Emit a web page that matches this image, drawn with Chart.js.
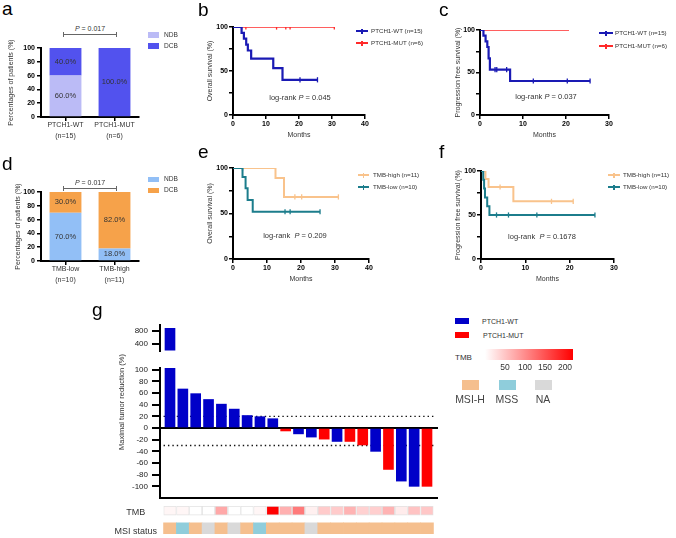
<!DOCTYPE html>
<html><head><meta charset="utf-8">
<script src="https://cdn.jsdelivr.net/npm/chart.js@4.4.1/dist/chart.umd.min.js"></script>
<style>
html,body{margin:0;padding:0;background:#fff;}
#root{position:relative;width:676px;height:538px;overflow:hidden;font-family:'Liberation Sans',Arial,Helvetica,sans-serif;color:#333;}
canvas{position:absolute;}
.t{position:absolute;white-space:nowrap;}
</style></head><body><div id="root"></div>
<script>
// ---------------- DATA ----------------
const responseSeries = ['NDB', 'DCB'];
const aCategories = [['PTCH1-WT', '(n=15)'], ['PTCH1-MUT', '(n=6)']];
const aNDB = [60.0, 0];
const aDCB = [40.0, 100.0];
const aP = '0.017';
const dCategories = [['TMB-low', '(n=10)'], ['TMB-high', '(n=11)']];
const dNDB = [70.0, 18.0];
const dDCB = [30.0, 82.0];
const dP = '0.017';

const kmYTicks = [0, 25, 50, 75, 100];
const kmYLabelled = [0, 50, 100];

const bWtTime = [0, 2.6, 3.3, 4.0, 4.5, 5.5, 12.2, 15.0, 25.6];
const bWtSurv = [100, 93.3, 86.7, 80, 73.3, 64, 53.3, 40, 40];
const bWtCensor = [2.6, 20.3, 25.6];
const bMutTime = [0, 30.7];
const bMutSurv = [100, 100];
const bMutCensor = [3.9, 13.2, 16.0, 17.3, 30.7];
const bLogRank = '0.045';

const cWtTime = [0, 0.8, 1.3, 1.7, 2.0, 2.3, 7.0, 25.6];
const cWtSurv = [100, 93.3, 86.7, 80, 66.7, 53.3, 40, 40];
const cWtCensor = [3.5, 3.9, 6.2, 12.4, 20.3, 25.6];
const cMutTime = [0, 20.7];
const cMutSurv = [100, 100];
const cMutCensor = [];
const cLogRank = '0.037';

const eHighTime = [0, 12.5, 15.0, 31.0];
const eHighSurv = [100, 88.9, 68.2, 68.2];
const eHighCensor = [18.2, 20.2, 31.0];
const eLowTime = [0, 2.8, 3.7, 4.3, 5.8, 25.6];
const eLowSurv = [100, 90, 77.8, 64.8, 51.9, 51.9];
const eLowCensor = [2.8, 15.3, 16.8, 25.6];
const eLogRank = '0.209';

const fHighTime = [0, 1.0, 1.7, 7.3, 20.8];
const fHighSurv = [100, 90.9, 81.8, 65.5, 65.5];
const fHighCensor = [4.3, 15.9, 20.8];
const fLowTime = [0, 0.5, 0.7, 0.9, 1.4, 1.9, 25.7];
const fLowSurv = [100, 90, 80, 70, 60, 50, 50];
const fLowCensor = [3.5, 6.2, 12.6, 25.7];
const fLogRank = '0.1678';

const gReduction = [880, 67, 59, 49, 41, 32.5, 21.5, 19.5, 16, -5, -10, -15.5, -19, -23, -23, -29, -40, -71, -91, -100, -100];
const gGroup = ['WT','WT','WT','WT','WT','WT','WT','WT','WT','MUT','WT','WT','MUT','WT','MUT','MUT','WT','MUT','WT','WT','MUT'];
const gTicksLower = [-100, -80, -60, -40, -20, 0, 20, 40, 60, 80, 100];
const gTicksUpper = [400, 800];
const gThresholds = [20, -30];
const tmbValues = [8, 8, 0, 0, 75, 0, 0, 8, 220, 68, 115, 13, 45, 45, 66, 40, 41, 66, 16, 52, 48];
const msiStatus = ['MSI-H','MSS','MSI-H','NA','MSI-H','NA','MSI-H','MSS','MSI-H','MSI-H','MSI-H','NA','MSI-H','MSI-H','MSI-H','MSI-H','MSI-H','MSI-H','MSI-H','MSI-H','MSI-H'];
const rowNames = ['TMB', 'MSI status'];
const tmbLegendTicks = [50, 100, 150, 200];
const tmbMax = 220;
const msiCategories = ['MSI-H', 'MSS', 'NA'];
const groupNames = ['PTCH1-WT', 'PTCH1-MUT'];

// ---------------- STYLE ----------------
const FONT = "'Liberation Sans', Arial, Helvetica, sans-serif";
Chart.defaults.font.family = FONT;
Chart.defaults.color = '#333';
Chart.defaults.animation = false;
Chart.defaults.responsive = false;
Chart.defaults.maintainAspectRatio = false;
Chart.defaults.devicePixelRatio = 1;
Chart.defaults.plugins.legend.display = false;
Chart.defaults.plugins.tooltip.enabled = false;

const groupColors = {WT: '#0000C8', MUT: '#FF0000'};
const msiColors = {'MSI-H': '#F5BF8E', 'MSS': '#8FCDDB', 'NA': '#D9D9D9'};
function tmbColor(v) { const g = Math.round(255 * (1 - Math.min(v, tmbMax) / tmbMax)); return `rgb(255,${g},${g})`; }

const root = document.getElementById('root');
function addCanvas(x, y, w, h) {
  const c = document.createElement('canvas');
  c.width = w; c.height = h;
  c.style.left = x + 'px'; c.style.top = y + 'px'; c.style.width = w + 'px'; c.style.height = h + 'px';
  root.appendChild(c); return c;
}
function addText(x, y, html, size, o = {}) {
  const d = document.createElement('div');
  d.className = 't'; d.innerHTML = html;
  d.style.fontSize = size + 'px'; d.style.lineHeight = size + 'px';
  d.style.top = (y - size / 2) + 'px';
  d.style.left = x + 'px';
  if (o.align === 'center') d.style.transform = 'translateX(-50%)';
  if (o.align === 'right') d.style.transform = 'translateX(-100%)';
  if (o.color) d.style.color = o.color;
  if (o.weight) d.style.fontWeight = o.weight;
  root.appendChild(d); return d;
}
function addRotText(cx, cy, html, size) {
  const d = document.createElement('div');
  d.className = 't'; d.innerHTML = html;
  d.style.fontSize = size + 'px'; d.style.lineHeight = size + 'px';
  d.style.left = cx + 'px'; d.style.top = cy + 'px';
  d.style.transform = 'translate(-50%,-50%) rotate(-90deg)';
  root.appendChild(d); return d;
}
function addRect(x, y, w, h, bg) {
  const d = document.createElement('div');
  d.style.cssText = `position:absolute;left:${x}px;top:${y}px;width:${w}px;height:${h}px;background:${bg};`;
  root.appendChild(d); return d;
}
function panelLetter(x, baseline, ch) {
  const d = addText(x, 0, ch, 19, {color: '#000'});
  d.style.top = (baseline - 0.847 * 19) + 'px';
}

// ---------------- a / d : stacked response bars ----------------
const segLabels = {
  id: 'segLabels',
  afterDatasetsDraw(chart) {
    const ctx = chart.ctx; ctx.save();
    ctx.font = '7.5px ' + FONT; ctx.fillStyle = '#333'; ctx.textAlign = 'center'; ctx.textBaseline = 'middle';
    chart.data.datasets.forEach((ds, di) => {
      chart.getDatasetMeta(di).data.forEach((el, i) => {
        const v = ds.data[i]; if (!v) return;
        ctx.fillText(v.toFixed(1) + '%', el.x, (el.y + el.base) / 2);
      });
    });
    ctx.restore();
  }
};
function stackChart(cv, cats, ndb, dcb, cols, titlePad) {
  return new Chart(cv, {
    type: 'bar',
    data: {labels: cats, datasets: [
      {label: responseSeries[0], data: ndb, backgroundColor: cols[0], barPercentage: 0.65, categoryPercentage: 1},
      {label: responseSeries[1], data: dcb, backgroundColor: cols[1], barPercentage: 0.65, categoryPercentage: 1}
    ]},
    options: {
      layout: {padding: {top: 8, right: 11, left: 0, bottom: 0}},
      scales: {
        x: {stacked: true, grid: {offset: false, drawOnChartArea: false, tickLength: 4, color: '#000', lineWidth: 1.5},
            border: {color: '#000', width: 2},
            ticks: {font: {size: 7, lineHeight: 1.5}, color: '#333', padding: -1},
            afterFit: s => { s.height = 33; }},
        y: {stacked: true, min: 0, max: 100,
            ticks: {stepSize: 20, font: {size: 7, weight: 'bold'}, color: '#000', padding: 2},
            grid: {drawOnChartArea: false, tickLength: 4, color: '#000', lineWidth: 1.5},
            border: {color: '#000', width: 2},
            title: {display: true, text: 'Percentages of patients (%)', font: {size: 7}, color: '#333', padding: {top: titlePad, bottom: 0}},
            afterFit: s => { s.width = 41; }}
      }
    },
    plugins: [segLabels]
  });
}
stackChart(addCanvas(0, 40, 150, 110), aCategories, aNDB, aDCB, ['#BBBBF6', '#5252EE'], 6.8);
stackChart(addCanvas(0, 184, 150, 110), dCategories, dNDB, dDCB, ['#92BFF6', '#F6A24A'], 13.8);

function bracket(x1, x2, y, pText) {
  addRect(x1, y - 0.5, x2 - x1, 1, '#666');
  addRect(x1, y - 2.5, 1, 5, '#666');
  addRect(x2 - 1, y - 2.5, 1, 5, '#666');
  addText((x1 + x2) / 2, y - 5.5, '<i>P</i> = ' + pText, 7, {align: 'center'});
}
bracket(63, 117, 34, aP);
bracket(63, 117, 188, dP);
function squareLegend(x, y, color, label) { addRect(x, y - 2.8, 11, 5.6, color); addText(x + 16, y, label, 6.6); }
squareLegend(148, 35, '#BBBBF6', responseSeries[0]);
squareLegend(148, 46, '#5252EE', responseSeries[1]);
squareLegend(148, 179.5, '#92BFF6', responseSeries[0]);
squareLegend(148, 190.5, '#F6A24A', responseSeries[1]);

// ---------------- b c e f : Kaplan-Meier ----------------
function survAt(time, surv, t) { let s = surv[0]; for (let i = 0; i < time.length; i++) if (time[i] < t) s = surv[i]; return s; }
function kmChart(cv, cfg) {
  const datasets = [];
  cfg.series.forEach(s => {
    datasets.push({type: 'line', data: s.time.map((t, i) => ({x: t, y: s.surv[i]})), borderColor: s.color, borderWidth: s.width,
      stepped: 'before', pointRadius: 0, fill: false, order: s.order});
    datasets.push({type: 'scatter', data: s.censor.map(t => ({x: t, y: survAt(s.time, s.surv, t)})), pointStyle: 'line',
      pointRadius: 2.6, pointRotation: 90, pointBorderColor: s.color, pointBackgroundColor: s.color, pointBorderWidth: 1.3, order: s.order});
  });
  return new Chart(cv, {
    type: 'line', data: {datasets},
    options: {
      layout: {padding: {top: cfg.padTop, right: cfg.padRight, left: 0, bottom: 0}},
      scales: {
        x: {type: 'linear', min: 0, max: cfg.xMax, offset: false,
            ticks: {stepSize: 10, font: {size: 7, weight: 'bold'}, color: '#000', padding: 0.8, maxRotation: 0},
            grid: {drawOnChartArea: false, tickLength: 4, color: '#000', lineWidth: 1.5},
            border: {color: '#000', width: 2},
            title: {display: true, text: 'Months', font: {size: 7}, color: '#333', padding: {top: 0, bottom: cfg.xTitlePad}},
            afterFit: s => { s.height = cfg.xAxisH; }},
        y: {type: 'linear', min: 0, max: 100,
            afterBuildTicks: s => { s.ticks = kmYTicks.map(v => ({value: v})); },
            ticks: {callback: v => kmYLabelled.includes(v) ? String(v) : '', font: {size: 7, weight: 'bold'}, color: '#000', padding: 1},
            grid: {drawOnChartArea: false, tickLength: 4, color: '#000', lineWidth: 1.5},
            border: {color: '#000', width: 2},
            title: {display: true, text: cfg.yTitle, font: {size: 7}, color: '#333', padding: {top: cfg.yTitlePad, bottom: 0}},
            afterFit: s => { s.width = cfg.yAxisW; }}
      }
    }
  });
}
const BLUE = '#1A1AB4', RED = '#FF2A2A', ORANGE = '#F9C38C', TEAL = '#1C7D8C';
kmChart(addCanvas(190, 15, 190, 130), {xMax: 40, yTitle: 'Overall survival (%)', padTop: 12, padRight: 15, yAxisW: 43, xAxisH: 30, yTitlePad: 15.8, xTitlePad: 5.8,
  series: [{time: bMutTime, surv: bMutSurv, censor: bMutCensor, color: RED, width: 1.6, order: 2},
           {time: bWtTime, surv: bWtSurv, censor: bWtCensor, color: BLUE, width: 2.2, order: 1}]});
kmChart(addCanvas(437, 15, 190, 130), {xMax: 30, yTitle: 'Progression free survival (%)', padTop: 15, padRight: 18, yAxisW: 43, xAxisH: 30, yTitlePad: 16.8, xTitlePad: 5.8,
  series: [{time: cMutTime, surv: cMutSurv, censor: cMutCensor, color: RED, width: 1.6, order: 2},
           {time: cWtTime, surv: cWtSurv, censor: cWtCensor, color: BLUE, width: 2.2, order: 1}]});
kmChart(addCanvas(190, 155, 195, 135), {xMax: 40, yTitle: 'Overall survival (%)', padTop: 13, padRight: 16, yAxisW: 43, xAxisH: 31, yTitlePad: 15.8, xTitlePad: 6.8,
  series: [{time: eHighTime, surv: eHighSurv, censor: eHighCensor, color: ORANGE, width: 2, order: 2},
           {time: eLowTime, surv: eLowSurv, censor: eLowCensor, color: TEAL, width: 2, order: 1}]});
kmChart(addCanvas(437, 155, 195, 135), {xMax: 30, yTitle: 'Progression free survival (%)', padTop: 16, padRight: 18, yAxisW: 44, xAxisH: 31, yTitlePad: 16.8, xTitlePad: 6.8,
  series: [{time: fHighTime, surv: fHighSurv, censor: fHighCensor, color: ORANGE, width: 2, order: 2},
           {time: fLowTime, surv: fLowSurv, censor: fLowCensor, color: TEAL, width: 2, order: 1}]});

function kmLegend(x, y, len, color, label, textX) {
  addRect(x, y - 1, len, 2, color);
  addRect(x + len / 2 - 0.7, y - 2.5, 1.4, 5, color);
  addText(textX, y, label, 6.2);
}
kmLegend(356, 31, 12, BLUE, 'PTCH1-WT (n=15)', 371);
kmLegend(356, 43, 12, RED, 'PTCH1-MUT (n=6)', 371);
kmLegend(599, 33, 14, BLUE, 'PTCH1-WT (n=15)', 615);
kmLegend(599, 46, 14, RED, 'PTCH1-MUT (n=6)', 615);
kmLegend(358, 175, 11, ORANGE, 'TMB-high (n=11)', 373);
kmLegend(358, 187, 11, TEAL, 'TMB-low (n=10)', 373);
kmLegend(608, 175, 12, ORANGE, 'TMB-high (n=11)', 623);
kmLegend(608, 187, 12, TEAL, 'TMB-low (n=10)', 623);

addText(300, 98, 'log-rank <i>P</i> = ' + bLogRank, 7.5, {align: 'center'});
addText(546, 97, 'log-rank <i>P</i> = ' + cLogRank, 7.5, {align: 'center'});
addText(295, 236, 'log-rank &nbsp;<i>P</i> = ' + eLogRank, 7.5, {align: 'center'});
addText(542, 237, 'log-rank &nbsp;<i>P</i> = ' + fLogRank, 7.5, {align: 'center'});

// ---------------- g : waterfall ----------------
const gXRange = [0.222, gReduction.length + 0.778];
const gBarData = gReduction.map((v, i) => ({x: i + 1, y: v}));
const gBarColors = gGroup.map(g => groupColors[g]);
const gX = (extra) => Object.assign({type: 'linear', min: gXRange[0], max: gXRange[1], offset: false}, extra);
const yAxisG = (min, max, ticks) => ({
  type: 'linear', min, max,
  afterBuildTicks: s => { s.ticks = ticks.map(v => ({value: v})); },
  ticks: {font: {size: 8}, color: '#222', padding: 4},
  grid: {drawOnChartArea: false, tickLength: 8, color: '#000', lineWidth: 2},
  border: {color: '#000', width: 2},
  afterFit: s => { s.width = 70; }
});
// upper (broken) segment: chart area y 324.5 .. 350.5
new Chart(addCanvas(90, 315, 355, 45), {
  type: 'bar',
  data: {datasets: [{data: gBarData, backgroundColor: gBarColors, barThickness: 10, clip: 0}]},
  options: {
    layout: {padding: {top: 9.5, right: 8, left: 0, bottom: 9.5}},
    scales: {x: gX({display: false}), y: yAxisG(200, 1000, gTicksUpper)}
  }
});
// lower segment: chart area y 368 .. 498
new Chart(addCanvas(90, 359, 355, 148), {
  type: 'bar',
  data: {datasets: [
    {type: 'bar', data: gBarData, backgroundColor: gBarColors, barThickness: 10, clip: 0, order: 1},
    ...gThresholds.map(t => ({type: 'line', data: [{x: 0.5, y: t}, {x: gReduction.length + 0.5, y: t}], borderColor: '#111',
      borderWidth: 1.4, borderDash: [1.4, 3], pointRadius: 0, order: 2}))
  ]},
  options: {
    layout: {padding: {top: 9, right: 8, left: 0, bottom: 5}},
    scales: {
      x: gX({position: {y: 0}, ticks: {display: false}, grid: {display: false, drawTicks: false}, border: {color: '#000', width: 2}}),
      x2: gX({position: 'bottom', ticks: {display: false}, grid: {display: false, drawTicks: false}, border: {color: '#000', width: 2}, afterFit: s => { s.height = 4; }}),
      y: yAxisG(-120, 103, gTicksLower)
    }
  }
});
// annotation rows: chart area y 500 .. 538
const rowSpans = [[6, 15], [23, 34]];
const rowLabelPos = [12, 32];
new Chart(addCanvas(90, 491.6, 355, 54.8), {
  type: 'bar',
  data: {datasets: [
    {data: tmbValues.map((v, i) => ({x: i + 1, y: rowSpans[0]})), backgroundColor: tmbValues.map(tmbColor), borderColor: '#E2E2E2', borderWidth: 0.8,
     borderSkipped: false, barThickness: 12.4, grouped: false, clip: 0},
    {data: msiStatus.map((m, i) => ({x: i + 1, y: rowSpans[1]})), backgroundColor: msiStatus.map(m => msiColors[m]), borderWidth: 0,
     barThickness: 12.9, grouped: false, clip: 0}
  ]},
  options: {
    layout: {padding: {top: 8.4, right: 8, left: 0, bottom: 8.4}},
    scales: {
      x: gX({display: false}),
      y: {type: 'linear', min: 0, max: 38, reverse: true,
          afterBuildTicks: s => { s.ticks = rowLabelPos.map(v => ({value: v})); },
          ticks: {callback: (v, i) => rowNames[i], font: {size: 9}, color: '#333', crossAlign: 'center', padding: 3},
          grid: {display: false, drawTicks: false}, border: {display: false},
          afterFit: s => { s.width = 70; }}
    }
  }
});
addRotText(122, 402, 'Maximal tumor reduction (%)', 7.5);

// g legends
addRect(455, 318, 14, 5.5, groupColors.WT); addText(482, 321.5, groupNames[0], 7);
addRect(455, 332, 14, 5.5, groupColors.MUT); addText(483, 335.5, groupNames[1], 7);
addText(455, 358, 'TMB', 8);
addRect(485, 349, 88, 11, `linear-gradient(to right, ${tmbColor(0)}, ${tmbColor(tmbMax / 2)}, ${tmbColor(tmbMax)})`);
tmbLegendTicks.forEach(v => addText(485 + v * 88 / tmbMax, 367, String(v), 8.5, {align: 'center'}));
const msiLegendX = [470, 507, 543];
msiCategories.forEach((m, i) => {
  addRect(msiLegendX[i] - 8.5, 380, 17, 10, msiColors[m]);
  addText(msiLegendX[i], 399, m, 10.5, {align: 'center', color: '#444'});
});

// panel letters
panelLetter(2, 15, 'a'); panelLetter(198, 16, 'b'); panelLetter(439, 16, 'c');
panelLetter(2, 170, 'd'); panelLetter(198, 158, 'e'); panelLetter(439, 158, 'f');
panelLetter(92, 316, 'g');
</script></body></html>
